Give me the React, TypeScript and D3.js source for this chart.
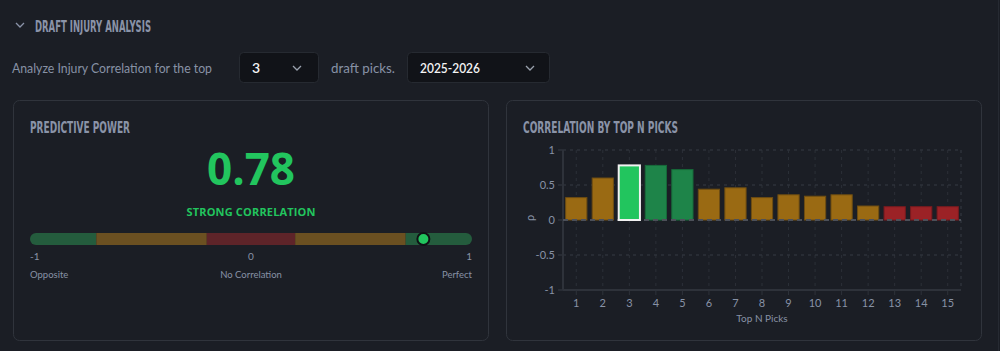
import React from "react";
import * as d3 from "d3";

// data
const picks = [1, 2, 3, 4, 5, 6, 7, 8, 9, 10, 11, 12, 13, 14, 15];
const correlations = [0.32, 0.6, 0.78, 0.78, 0.72, 0.44, 0.46, 0.32, 0.36, 0.34, 0.36, 0.2, 0.19, 0.19, 0.19];
const selectedPick = 3;
const yTicks = [1, 0.5, 0, -0.5, -1];
const gaugeBands = [
  { from: -1, to: -0.7, kind: "strong" },
  { from: -0.7, to: -0.2, kind: "moderate" },
  { from: -0.2, to: 0.2, kind: "weak" },
  { from: 0.2, to: 0.7, kind: "moderate" },
  { from: 0.7, to: 1, kind: "strong" },
];
const gaugeTicks = [-1, 0, 1];
const gaugeLabels = ["Opposite", "No Correlation", "Perfect"];
const currentValue = 0.78;

const BG = "#1b1e25";
const BORDER = "#30343c";
const MUTED = "#8892a5";
const TITLE = "#8a93a8";
const GREEN = "#22c55e";
const condensed = "'Liberation Sans Narrow', 'DejaVu Sans Condensed', 'Roboto Condensed', sans-serif";
const body = "Lato, 'Open Sans', 'Noto Sans', sans-serif";

const gaugeFill: Record<string, string> = { strong: "#245c3d", moderate: "#6b5021", weak: "#5e2429" };

function barColor(v: number, pick: number) {
  if (pick === selectedPick) return { fill: GREEN, stroke: "#f2f2f2" };
  const a = Math.abs(v);
  if (a >= 0.7) return { fill: "#1e8449", stroke: "#176a3a" };
  if (a >= 0.2) return { fill: "#9a6a13", stroke: "#6e4d12" };
  return { fill: "#9b2226", stroke: "#7a1b1f" };
}

function Chevron({ x, y, color }: { x: number; y: number; color: string }) {
  return <path d={`M${x - 4},${y - 2} L${x},${y + 2} L${x + 4},${y - 2}`} fill="none" stroke={color} strokeWidth={1.3} />;
}

export default function App() {
  // gauge scale
  const gx = d3.scaleLinear().domain([-1, 1]).range([30, 472]);
  const gaugeY = 233;
  const gaugeH = 12;

  // bar chart scales
  const x = d3.scaleLinear().domain([0.5, 15.5]).range([563, 961]);
  const y = d3.scaleLinear().domain([-1, 1]).range([290, 150]);
  const bw = (x(1.5) - x(0.5)) * 0.8;

  const bar = (p: number, i: number) => {
    const v = correlations[i];
    const c = barColor(v, p);
    const sel = p === selectedPick;
    return (
      <rect
        key={"b" + p}
        x={x(p) - bw / 2}
        y={y(Math.max(v, 0))}
        width={bw}
        height={Math.abs(y(v) - y(0))}
        fill={c.fill}
        stroke={c.stroke}
        strokeWidth={sel ? 2 : 1}
      />
    );
  };

  return (
    <svg width={1000} height={351} style={{ position: "absolute", left: 0, top: 0, display: "block" }}>
      <rect width={1000} height={351} fill={BG} />
      <line x1={998.5} x2={998.5} y1={0} y2={351} stroke="#262a32" />

      {/* section header */}
      <Chevron x={20} y={25} color="#8a93a8" />
      <text x={35} y={32} fill={TITLE} fontFamily={condensed} fontWeight={700} fontSize={16} textLength={116} lengthAdjust="spacingAndGlyphs">
        DRAFT INJURY ANALYSIS
      </text>

      {/* controls row */}
      <text x={12} y={73} fill={MUTED} fontFamily={body} fontSize={14} textLength={200} lengthAdjust="spacingAndGlyphs">
        Analyze Injury Correlation for the top
      </text>
      <rect x={239.5} y={52.5} width={79} height={30} rx={4} fill="#111318" stroke="#262a31" />
      <text x={252} y={73} fill="#f4f4f4" fontFamily={body} fontSize={14} fontWeight={600}>3</text>
      <Chevron x={297} y={68} color="#9aa1ad" />
      <text x={331} y={73} fill={MUTED} fontFamily={body} fontSize={14} textLength={64} lengthAdjust="spacingAndGlyphs">draft picks.</text>
      <rect x={407.5} y={52.5} width={142} height={30} rx={4} fill="#111318" stroke="#262a31" />
      <text x={420} y={73} fill="#f4f4f4" fontFamily={body} fontSize={14} fontWeight={600} textLength={60} lengthAdjust="spacingAndGlyphs">2025-2026</text>
      <Chevron x={530} y={68} color="#9aa1ad" />

      {/* left card */}
      <rect x={13.5} y={100.5} width={475} height={240} rx={6} fill={BG} stroke={BORDER} />
      <text x={30} y={133} fill={TITLE} fontFamily={condensed} fontWeight={700} fontSize={16} textLength={100} lengthAdjust="spacingAndGlyphs">
        PREDICTIVE POWER
      </text>
      <text x={251} y={185} textAnchor="middle" fill={GREEN} fontFamily="'Open Sans', 'Noto Sans', sans-serif" fontWeight={700} fontSize={44}>
        {currentValue.toFixed(2)}
      </text>
      <text x={251} y={216} textAnchor="middle" fill={GREEN} fontFamily="'Open Sans', 'Noto Sans', sans-serif" fontWeight={700} fontSize={11} textLength={129} lengthAdjust="spacing">
        STRONG CORRELATION
      </text>
      <defs>
        <clipPath id="gaugeClip">
          <rect x={gx(-1)} y={gaugeY} width={gx(1) - gx(-1)} height={gaugeH} rx={6} />
        </clipPath>
      </defs>
      <g clipPath="url(#gaugeClip)">
        {gaugeBands.map((b, i) => (
          <rect key={i} x={gx(b.from)} y={gaugeY} width={gx(b.to) - gx(b.from)} height={gaugeH} fill={gaugeFill[b.kind]} />
        ))}
      </g>
      <circle cx={gx(currentValue)} cy={gaugeY + gaugeH / 2} r={6} fill={GREEN} stroke="#101216" strokeWidth={2} />
      {gaugeTicks.map((t, i) => (
        <text key={t} x={gx(t)} y={260} textAnchor={i === 0 ? "start" : i === 2 ? "end" : "middle"} fill={MUTED} fontFamily={body} fontSize={10}>
          {t}
        </text>
      ))}
      {gaugeLabels.map((l, i) => (
        <text key={l} x={gx(gaugeTicks[i])} y={278} textAnchor={i === 0 ? "start" : i === 2 ? "end" : "middle"} fill={MUTED} fontFamily={body} fontSize={9.5}>
          {l}
        </text>
      ))}

      {/* right card */}
      <rect x={506.5} y={100.5} width={475} height={240} rx={6} fill={BG} stroke={BORDER} />
      <text x={523} y={133} fill={TITLE} fontFamily={condensed} fontWeight={700} fontSize={16} textLength={155} lengthAdjust="spacingAndGlyphs">
        CORRELATION BY TOP N PICKS
      </text>

      {/* grid */}
      {picks.map((p) => (
        <line key={"vg" + p} x1={x(p)} x2={x(p)} y1={y(1)} y2={y(-1)} stroke="#2c3038" strokeDasharray="3,4" />
      ))}
      {yTicks.filter((t) => t !== 0).map((t) => (
        <line key={"hg" + t} x1={x(0.5)} x2={x(15.5)} y1={y(t)} y2={y(t)} stroke="#2e323a" strokeWidth={t === -1 ? 2 : 1.5} strokeDasharray={t === -1 ? undefined : "3,4"} />
      ))}
      <line x1={x(15.5)} x2={x(15.5)} y1={y(1)} y2={y(-1)} stroke="#2e323a" strokeWidth={1.5} strokeDasharray="3,4" />
      <line x1={x(0.5)} x2={x(0.5)} y1={y(1)} y2={y(-1)} stroke="#2e323a" strokeWidth={2} />
      {yTicks.map((t) => (
        <g key={"yt" + t}>
          <line x1={x(0.5) - 5} x2={x(0.5)} y1={y(t)} y2={y(t)} stroke="#2e323a" strokeWidth={1.5} />
          <text x={555} y={y(t) + 4} textAnchor="end" fill={MUTED} fontFamily={body} fontSize={11}>{t}</text>
        </g>
      ))}
      {picks.map((p) => (
        <g key={"xt" + p}>
          <line x1={x(p)} x2={x(p)} y1={y(-1)} y2={y(-1) + 5} stroke="#2e323a" />
          <text x={x(p)} y={307} textAnchor="middle" fill={MUTED} fontFamily={body} fontSize={11}>{p}</text>
        </g>
      ))}
      <text transform={`translate(534,218) rotate(-90)`} textAnchor="middle" fill={MUTED} fontFamily={body} fontSize={11}>ρ</text>
      <text x={762} y={322} textAnchor="middle" fill={MUTED} fontFamily={body} fontSize={10}>Top N Picks</text>

      {/* bars: zero line sits over the plain bars, the selected bar is drawn on top */}
      {picks.map((p, i) => (p === selectedPick ? null : bar(p, i)))}
      <line x1={x(0.5)} x2={x(15.5)} y1={y(0)} y2={y(0)} stroke="#4c5059" strokeWidth={2} strokeDasharray="5,4" />
      {picks.map((p, i) => (p === selectedPick ? bar(p, i) : null))}
    </svg>
  );
}
